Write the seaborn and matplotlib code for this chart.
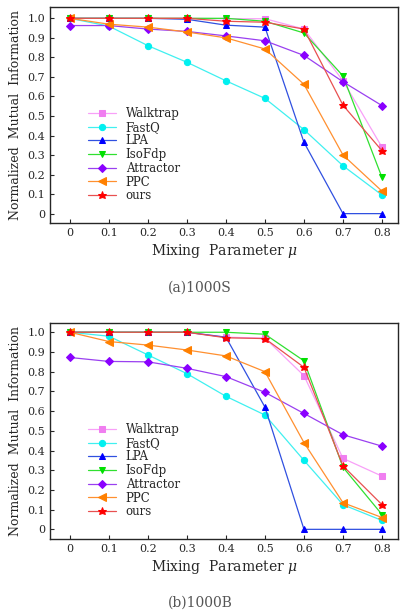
import numpy as np
import pandas as pd
import seaborn as sns
import matplotlib
matplotlib.use("Agg")
import matplotlib.pyplot as plt

mu = [0, 0.1, 0.2, 0.3, 0.4, 0.5, 0.6, 0.7, 0.8]
methods = ["Walktrap", "FastQ", "LPA", "IsoFdp", "Attractor", "PPC", "ours"]

# (a) 1000S
s_walktrap = [1.0, 1.0, 1.0, 1.0, 0.998, 0.998, 0.945, 0.68, 0.34]
s_fastq = [1.0, 0.96, 0.86, 0.775, 0.68, 0.59, 0.43, 0.245, 0.095]
s_lpa = [1.0, 1.0, 1.0, 0.995, 0.965, 0.955, 0.365, 0.0, 0.0]
s_isofdp = [1.0, 1.0, 1.0, 1.0, 1.0, 0.985, 0.925, 0.705, 0.185]
s_attractor = [0.963, 0.963, 0.945, 0.933, 0.91, 0.885, 0.81, 0.675, 0.553]
s_ppc = [1.0, 0.97, 0.955, 0.93, 0.90, 0.843, 0.662, 0.30, 0.115]
s_ours = [1.0, 1.0, 1.0, 1.0, 0.985, 0.98, 0.945, 0.555, 0.322]

# (b) 1000B
b_walktrap = [1.0, 1.0, 1.0, 1.0, 0.975, 0.97, 0.78, 0.36, 0.27]
b_fastq = [1.0, 0.98, 0.885, 0.79, 0.675, 0.58, 0.35, 0.125, 0.045]
b_lpa = [1.0, 1.0, 1.0, 1.0, 0.975, 0.62, 0.0, 0.0, 0.0]
b_isofdp = [1.0, 1.0, 1.0, 1.0, 1.0, 0.99, 0.855, 0.315, 0.075]
b_attractor = [0.872, 0.852, 0.85, 0.817, 0.775, 0.695, 0.588, 0.48, 0.422]
b_ppc = [1.0, 0.953, 0.935, 0.91, 0.88, 0.80, 0.44, 0.135, 0.06]
b_ours = [1.0, 1.0, 1.0, 1.0, 0.972, 0.968, 0.822, 0.322, 0.125]

yticks = [0, 0.1, 0.2, 0.3, 0.4, 0.5, 0.6, 0.7, 0.8, 0.9, 1.0]
ytick_labels = ["0", "0.1", "0.2", "0.3", "0.4", "0.5", "0.6", "0.7", "0.8", "0.9", "1.0"]
xtick_labels = ["0", "0.1", "0.2", "0.3", "0.4", "0.5", "0.6", "0.7", "0.8"]

palette = {"Walktrap": "#f07ef0", "FastQ": "#00f0f0", "LPA": "#0000ff",
           "IsoFdp": "#00e000", "Attractor": "#8a00ff", "PPC": "#ff8000",
           "ours": "#ff0000"}
line_colors = {"Walktrap": "#f8a0f8", "FastQ": "#40f0f0", "LPA": "#3050e0",
               "IsoFdp": "#30e030", "Attractor": "#9a40f0", "PPC": "#ff9030",
               "ours": "#e85050"}
markers = {"Walktrap": "s", "FastQ": "o", "LPA": "^", "IsoFdp": "v",
           "Attractor": "D", "PPC": "<", "ours": "*"}
msize = {"Walktrap": 4.2, "FastQ": 4.5, "LPA": 5, "IsoFdp": 5,
         "Attractor": 4.2, "PPC": 5.5, "ours": 6.2}

sns.set_style("ticks")
plt.rcParams["font.family"] = ["DejaVu Serif"]
plt.rcParams["mathtext.fontset"] = "dejavuserif"

fig = plt.figure(figsize=(4.0, 6.13), dpi=100)
W, H = 400, 613
ax_a = fig.add_axes([50 / W, 1 - 223 / H, 348 / W, 216 / H])
ax_b = fig.add_axes([50 / W, 1 - 539 / H, 348 / W, 216 / H])


def draw(ax, series, leg_y):
    frame = pd.DataFrame({"mu": np.tile(mu, len(methods)),
                          "nmi": np.concatenate(series),
                          "method": np.repeat(methods, len(mu))})
    for m in methods:
        sub = frame[frame.method == m]
        sns.lineplot(data=sub, x="mu", y="nmi", ax=ax, color=line_colors[m],
                     lw=0.9, marker=markers[m], markersize=msize[m],
                     markerfacecolor=palette[m], markeredgecolor=palette[m],
                     label=m, legend=True)
    ax.set_xlim(-0.051, 0.841)
    ax.set_xticks(mu)
    ax.set_xticklabels(xtick_labels, fontsize=8)
    ax.set_yticks(yticks)
    ax.set_yticklabels(ytick_labels, fontsize=8)
    ax.tick_params(direction="in", length=3, width=0.8)
    for sp in ax.spines.values():
        sp.set_linewidth(1.0)
    ax.set_xlabel(r"Mixing  Parameter $\mu$", fontsize=10, labelpad=3)
    ax.set_ylabel("Normalized  Mutual  Information", fontsize=9, labelpad=4)
    ax.legend(loc="upper left", bbox_to_anchor=(0.085, leg_y), frameon=False,
              fontsize=8.5, handlelength=2.4, labelspacing=0.06,
              handletextpad=0.8, borderpad=0.2)


draw(ax_a, [s_walktrap, s_fastq, s_lpa, s_isofdp, s_attractor, s_ppc, s_ours], 0.575)
ax_a.set_ylim(-0.048, 1.058)
draw(ax_b, [b_walktrap, b_fastq, b_lpa, b_isofdp, b_attractor, b_ppc, b_ours], 0.575)
ax_b.set_ylim(-0.049, 1.047)

fig.text(0.5, 1 - 288 / H, "(a)1000S", ha="center", va="center",
         fontsize=10, color="#555555")
fig.text(0.5, 1 - 603 / H, "(b)1000B", ha="center", va="center",
         fontsize=10, color="#555555")

fig.savefig("out.png", dpi=100)
